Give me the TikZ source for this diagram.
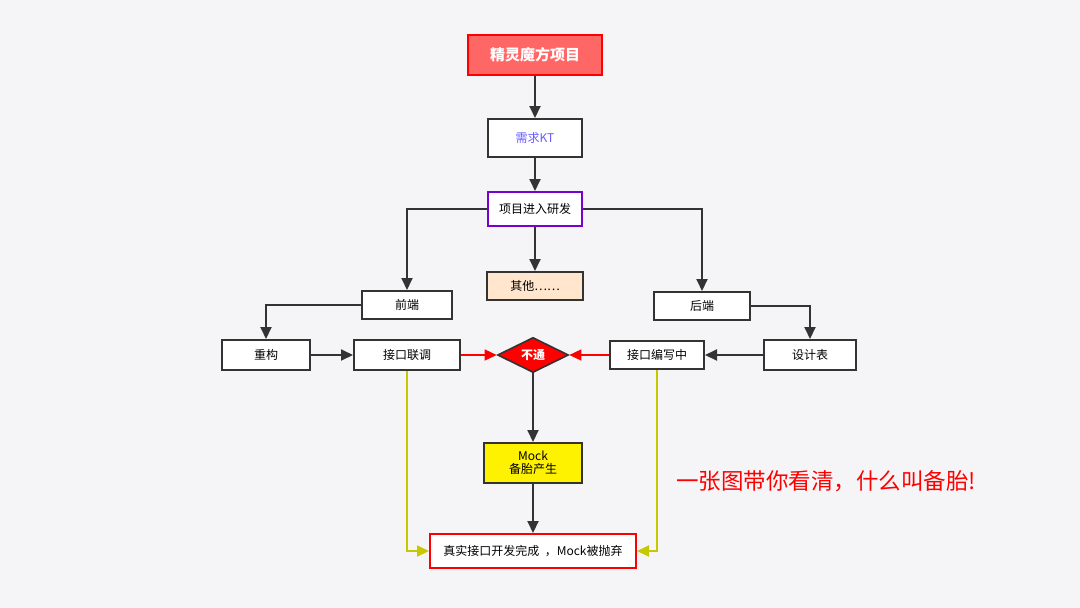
\documentclass[tikz,border=0pt]{standalone}
\usepackage{fontspec}
\setmainfont{Noto Sans CJK SC}
\usetikzlibrary{arrows.meta,shapes.geometric}
\definecolor{bg}{HTML}{F5F5F8}
\definecolor{ln}{HTML}{333333}
\definecolor{topfill}{HTML}{FF6666}
\definecolor{peach}{HTML}{FFE6CC}
\definecolor{kt}{HTML}{6A5CFF}
\definecolor{purp}{HTML}{7A00CC}
\definecolor{ygreen}{HTML}{C8C800}
\tikzset{
  box/.style={draw=ln,line width=2pt,fill=white,inner sep=0pt,font=\fontsize{12}{14}\selectfont,text=black},
  conn/.style={draw=ln,line width=2pt,-{Triangle[length=12pt,width=11pt]}},
  rconn/.style={draw=red,line width=1.5pt,-{Triangle[length=12pt,width=11pt]}},
  yconn/.style={draw=ygreen,line width=2pt,-{Triangle[length=12pt,width=11pt]}},
}
\begin{document}
\begin{tikzpicture}[x=1pt,y=-1pt]
\fill[bg] (0,0) rectangle (1080,608);
\useasboundingbox (0,0) rectangle (1080,608);

\node[box,fill=topfill,draw=red,minimum width=134pt,minimum height=40pt,text=white,font=\fontsize{15}{18}\selectfont\bfseries] (top) at (535,55) {精灵魔方项目};
\node[box,minimum width=94pt,minimum height=38pt,text=kt] (kt) at (535,138) {需求KT};
\node[box,draw=purp,minimum width=94pt,minimum height=34pt] (dev) at (535,209) {项目进入研发};
\node[box,fill=peach,minimum width=96pt,minimum height=28pt] (other) at (535,286) {其他……};
\node[box,minimum width=90pt,minimum height=28pt] (fe) at (407,305) {前端};
\node[box,minimum width=96pt,minimum height=28pt] (be) at (702,306) {后端};
\node[box,minimum width=88pt,minimum height=30pt] (re) at (266,355) {重构};
\node[box,minimum width=106pt,minimum height=30pt] (lt) at (407,355) {接口联调};
\node[draw=ln,line width=1.6pt,fill=red,shape=diamond,inner sep=0pt,minimum width=71pt,minimum height=32pt,text=white,font=\fontsize{12}{14}\selectfont\bfseries] (no) at (533,355) {不通};
\node[box,minimum width=94pt,minimum height=28pt] (bx) at (657,355) {接口编写中};
\node[box,minimum width=92pt,minimum height=30pt] (tb) at (810,355) {设计表};
\node[box,fill=yellow,minimum width=98pt,minimum height=40pt,align=center,font=\fontsize{12}{13}\selectfont] (mock) at (533,463) {Mock\\备胎产生};
\node[box,draw=red,minimum width=206pt,minimum height=34pt] (real) at (533,551) {真实接口开发完成\ \ ，Mock被抛弃};
\node[text=red,font=\fontsize{22.5}{26}\selectfont,anchor=west,inner sep=0pt] (slogan) at (676,481) {一张图带你看清，什么叫备胎!};

\draw[conn] (top) -- (kt);
\draw[conn] (kt) -- (dev);
\draw[conn] (dev) -- (other);
\draw[conn] (dev.west) -| (fe.north);
\draw[conn] (dev.east) -| (be.north);
\draw[conn] (fe.west) -| (re.north);
\draw[conn] (be.east) -| (tb.north);
\draw[conn] (re) -- (lt);
\draw[conn] (tb) -- (bx);
\draw[rconn] (lt) -- (no);
\draw[rconn] (bx) -- (no);
\draw[conn] (no) -- (mock);
\draw[conn] (mock) -- (real);
\draw[yconn] (lt.south) |- (real.west);
\draw[yconn] (bx.south) |- (real.east);
\end{tikzpicture}
\end{document}
